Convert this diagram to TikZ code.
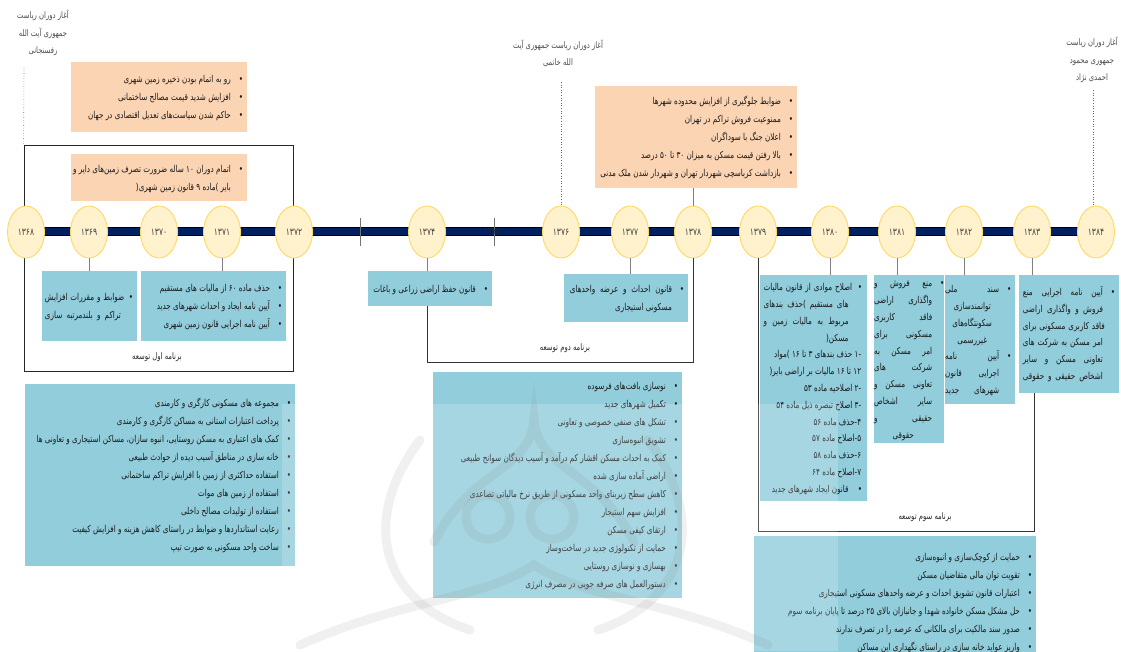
\documentclass[tikz,border=0pt]{standalone}
\usepackage{fontspec}
\usetikzlibrary{positioning,shapes.geometric,backgrounds}
\newfontfamily\fa[Script=Arabic,FakeStretch=0.76]{DejaVu Sans}
\TeXXeTstate=1
\definecolor{cblue}{HTML}{92CDDC}
\definecolor{cpeach}{HTML}{FBD4B4}
\definecolor{yearfill}{HTML}{FFF2CC}
\definecolor{yeardraw}{HTML}{FFD966}
\definecolor{barnavy}{HTML}{002060}
\newlength\jw
\newcommand\rl[1]{\beginR #1\endR}
\newcommand\js[1]{\makebox[\jw][s]{\spaceskip=0.3em plus 20em\relax\beginR #1\endR}}
\newcommand\jc[1]{\makebox[\jw][c]{\beginR #1\endR}}
\newcommand\itm[1]{\rl{#1} & \textbullet\\}
\newcommand\jitm[1]{\js{#1} & \textbullet\\}
\newcommand\cnt[1]{\rl{#1} & \\}
\newcommand\jcnt[1]{\js{#1} & \\}
\newcommand\ccnt[1]{\jc{#1} & \\}
\newcommand\full[1]{\multicolumn{2}{r}{\rl{#1}}\\}
\newenvironment{rlist}{\begin{tabular}{@{}r@{\hspace{8pt}}c@{\hspace{4pt}}}}{\end{tabular}}
\begin{document}
\begin{tikzpicture}[x=1pt,y=-1pt,
  year/.style={ellipse,draw=yeardraw,fill=yearfill,line width=0.9pt,minimum width=37pt,minimum height=52pt,inner sep=0pt,font=\fa\fontsize{10}{10}\selectfont,text=black!75},
  items/.style={anchor=north west,inner xsep=0pt,inner ysep=0pt,align=flush right,text=black!90,font=\fa\fontsize{9.5}{18}\selectfont},
  blueitems/.style={items,fill=cblue},
  peachitems/.style={items,fill=cpeach},
  tight/.style={font=\fa\fontsize{9.5}{16.8}\selectfont},
  link/.style={draw=black!50,line width=0.8pt},
  bracket/.style={draw=black!80,line width=0.8pt},
  dots/.style={draw=black!60,dotted,line width=0.6pt},
  mark/.style={draw=black!55,line width=0.8pt},
  logo/.style={draw=black!45,line width=9pt,opacity=0.13,line cap=round},
  pres/.style={align=center,text=black!70,font=\fa\fontsize{9}{17.5}\selectfont},
  proglabel/.style={text=black!85,font=\fa\fontsize{9}{10}\selectfont}]
\useasboundingbox (0,0) rectangle (1121,651);

% years on the time line
\foreach \px/\yr/\fy in {26/1368/۱۳۶۸,89/1369/۱۳۶۹,159/1370/۱۳۷۰,222/1371/۱۳۷۱,294/1372/۱۳۷۲,
  427/1374/۱۳۷۴,561/1376/۱۳۷۶,630/1377/۱۳۷۷,693/1378/۱۳۷۸,758/1379/۱۳۷۹,830/1380/۱۳۸۰,
  897/1381/۱۳۸۱,964/1382/۱۳۸۲,1032/1383/۱۳۸۳,1096/1384/۱۳۸۴}
  \node[year] (y\yr) at (\px,232) {\fy};

\begin{scope}[on background layer]
\draw[black,line width=0.5pt,fill=barnavy] (26,227.5) rectangle (1096,235.5);
\node[draw=black!85,line width=0.8pt,minimum width=269pt,minimum height=226pt,inner sep=0pt] (prog1) at (158.5,258) {};
\draw[black!55,line width=0.8pt] (360,218) -- (360,246);
\draw[black!55,line width=0.8pt] (494,218) -- (494,246);
\node[font=\fa\fontsize{10}{10}\selectfont,text=black!85] (y1375) at (492,231) {۱۳۷۵};
\end{scope}

% presidents
\node[pres] (pres1) at (43,33) {\rl{آغاز دوران ریاست}\\\rl{جمهوری آیت الله}\\\rl{رفسنجانی}};
\node[pres] (pres2) at (558,53.5) {\rl{آغاز دوران ریاست جمهوری آیت}\\\rl{الله خاتمی}};
\node[pres] (pres3) at (1092,60) {\rl{آغاز دوران ریاست}\\\rl{جمهوری محمود}\\\rl{احمدی نژاد}};
\coordinate (d1) at (24,68);
\coordinate (d2) at (561,82);
\coordinate (d3) at (1093,90);
\draw[dots] (d1) -- (prog1.north west);
\draw[dots] (d2) -- (d2 |- y1376.north);
\draw[dots] (d3) -- (d3 |- y1384.north);

% peach boxes
\node[peachitems,text width=176pt,minimum height=70pt] (p1) at (71,62) {\begin{rlist}
\itm{رو به اتمام بودن ذخیره زمین شهری}
\itm{افزایش شدید قیمت مصالح ساختمانی}
\itm{حاکم شدن سیاست‌های تعدیل اقتصادی در جهان}
\end{rlist}};
\node[peachitems,text width=176pt,minimum height=47pt] (p2) at (71,154) {\begin{rlist}
\itm{اتمام دوران ۱۰ ساله ضرورت تصرف زمین‌های دایر و}
\cnt{بایر )ماده ۹ قانون زمین شهری(}
\end{rlist}};
\node[peachitems,text width=202pt,minimum height=102pt] (p3) at (595,86) {\begin{rlist}
\itm{ضوابط جلوگیری از افزایش محدوده شهرها}
\itm{ممنوعیت فروش تراکم در تهران}
\itm{اعلان جنگ با سوداگران}
\itm{بالا رفتن قیمت مسکن به میزان ۳۰ تا ۵۰ درصد}
\itm{بازداشت کرباسچی شهردار تهران و شهردار شدن ملک مدنی}
\end{rlist}};

% blue boxes under the years
\node[blueitems,text width=95pt,minimum height=70pt] (b1369) at (42,271) {\setlength\jw{76pt}\begin{rlist}
\jitm{ضوابط و مقررات افزایش}
\jcnt{تراکم و بلندمرتبه سازی}
\end{rlist}};
\node[blueitems,text width=145pt,minimum height=70pt] (b1371) at (141,271) {\begin{rlist}
\itm{حذف ماده ۶۰ از مالیات های مستقیم}
\itm{آیین نامه ایجاد و احداث شهرهای جدید}
\itm{آیین نامه اجرایی قانون زمین شهری}
\end{rlist}};
\node[blueitems,text width=124pt,minimum height=35pt] (b1374) at (368,271) {\begin{rlist}
\itm{قانون حفظ اراضی زراعی و باغات}
\end{rlist}};
\node[blueitems,text width=124pt,minimum height=48pt] (b1377) at (564,274) {\setlength\jw{102pt}\begin{rlist}
\jitm{قانون احداث و عرضه واحدهای}
\cnt{مسکونی استیجاری}
\end{rlist}};
\node[blueitems,tight,text width=107pt,minimum height=226pt] (b1380) at (760,275) {\setlength\jw{85pt}\begin{rlist}
\jitm{اصلاح موادی از قانون مالیات}
\jcnt{های مستقیم )حذف بندهای}
\jcnt{مربوط به مالیات زمین و}
\cnt{مسکن(}
\full{-۱ حذف بندهای ۳ تا ۱۶ )مواد}
\full{۱۲ تا ۱۶ مالیات بر اراضی بایر(}
\full{-۲ اصلاحیه ماده ۵۳}
\full{-۳ اصلاح تبصره ذیل ماده ۵۴}
\full{۴-حذف ماده ۵۶}
\full{۵-اصلاح ماده ۵۷}
\full{۶-حذف ماده ۵۸}
\full{۷-اصلاح ماده ۶۴}
\itm{قانون ایجاد شهرهای جدید}
\end{rlist}};
\node[blueitems,tight,text width=70pt,minimum height=168pt] (b1381) at (874,275) {\setlength\jw{58pt}\begin{rlist}
\jitm{منع فروش و}
\jcnt{واگذاری اراضی}
\jcnt{فاقد کاربری}
\jcnt{مسکونی برای}
\jcnt{امر مسکن به}
\jcnt{شرکت های}
\jcnt{تعاونی مسکن و}
\jcnt{سایر اشخاص}
\jcnt{حقیقی و}
\ccnt{حقوقی}
\end{rlist}};
\node[blueitems,tight,text width=70pt,minimum height=129pt] (b1382) at (945,275) {\setlength\jw{54pt}\begin{rlist}
\jitm{سند ملی}
\ccnt{توانمندسازی}
\ccnt{سکونتگاه‌های}
\ccnt{غیررسمی}
\jitm{آیین نامه}
\jcnt{اجرایی قانون}
\jcnt{شهرهای جدید}
\end{rlist}};
\node[blueitems,tight,text width=100pt,minimum height=118pt] (b1383) at (1019,275) {\setlength\jw{80pt}\begin{rlist}
\jitm{آیین نامه اجرایی منع}
\jcnt{فروش و واگذاری اراضی}
\jcnt{فاقد کاربری مسکونی برای}
\jcnt{امر مسکن به شرکت های}
\jcnt{تعاونی مسکن و سایر}
\jcnt{اشخاص حقیقی و حقوقی}
\end{rlist}};

% policies of each plan
\node[blueitems,text width=270pt,minimum height=182pt] (plan1) at (25,384) {\begin{rlist}
\itm{مجموعه های مسکونی کارگری و کارمندی}
\itm{پرداخت اعتبارات استانی به مساکن کارگری و کارمندی}
\itm{کمک های اعتباری به مسکن روستایی، انبوه سازان، مساکن استیجاری و تعاونی ها}
\itm{خانه سازی در مناطق آسیب دیده از حوادث طبیعی}
\itm{استفاده حداکثری از زمین با افزایش تراکم ساختمانی}
\itm{استفاده از زمین های موات}
\itm{استفاده از تولیدات مصالح داخلی}
\itm{رعایت استانداردها و ضوابط در راستای کاهش هزینه و افزایش کیفیت}
\itm{ساخت واحد مسکونی به صورت تیپ}
\end{rlist}};
\node[blueitems,text width=249pt,minimum height=226pt] (plan2) at (433,372) {\begin{rlist}
\itm{نوسازی بافت‌های فرسوده}
\itm{تکمیل شهرهای جدید}
\itm{تشکل های صنفی خصوصی و تعاونی}
\itm{تشویق انبوه‌سازی}
\itm{کمک به احداث مسکن اقشار کم درآمد و آسیب دیدگان سوانح طبیعی}
\itm{اراضی آماده سازی شده}
\itm{کاهش سطح زیربنای واحد مسکونی از طریق نرخ مالیاتی تصاعدی}
\itm{افزایش سهم استیجار}
\itm{ارتقای کیفی مسکن}
\itm{حمایت از تکنولوژی جدید در ساخت‌وساز}
\itm{بهسازی و نوسازی روستایی}
\itm{دستورالعمل های صرفه جویی در مصرف انرژی}
\end{rlist}};
\node[blueitems,text width=282pt,minimum height=132pt] (plan3) at (754,536) {\begin{rlist}
\itm{حمایت از کوچک‌سازی و انبوه‌سازی}
\itm{تقویت توان مالی متقاضیان مسکن}
\itm{اعتبارات قانون تشویق احداث و عرضه واحدهای مسکونی استیجاری}
\itm{حل مشکل مسکن خانواده شهدا و جانبازان بالای ۲۵ درصد تا پایان برنامه سوم}
\itm{صدور سند مالکیت برای مالکانی که عرصه را در تصرف ندارند}
\itm{واریز عواید خانه سازی در راستای نگهداری این مساکن}
\end{rlist}};

% links from the years
\foreach \yr in {1369,1371,1374,1377,1380,1381,1382,1383}
  \draw[link] (y\yr.south) -- (y\yr.south |- b\yr.north);
\draw[link] (y1378.north) -- (y1378.north |- p3.south);

% plan brackets
\coordinate (p2end) at (693,362);
\coordinate (p3end) at (1034,531);
\draw[bracket] (y1374.south |- b1374.south) |- (p2end) -- (y1378.south);
\draw[bracket] (y1379.south) |- (p3end) -- (p3end |- b1383.south);
\node[proglabel] (prog1l) at (157,357) {\rl{برنامه اول توسعه}};
\node[proglabel] (prog2l) at (565,348) {\rl{برنامه دوم توسعه}};
\node[proglabel] (prog3l) at (925,517) {\rl{برنامه سوم توسعه}};

% faint watermark
\fill[white,opacity=0.18] (282,404) rectangle (838,651);
\draw[logo] (434,542) .. controls (470,470) and (530,470) .. (534,420)
  .. controls (538,470) and (598,470) .. (634,542);
\draw[logo] (488,517) circle (22);
\draw[logo] (552,517) circle (22);
\draw[logo] (420,440) .. controls (360,520) and (380,600) .. (470,630);
\draw[logo] (648,440) .. controls (708,520) and (688,600) .. (598,630);
\draw[logo] (300,645) .. controls (400,600) and (480,600) .. (534,565)
  .. controls (588,600) and (668,600) .. (768,645);
\end{tikzpicture}
\end{document}
